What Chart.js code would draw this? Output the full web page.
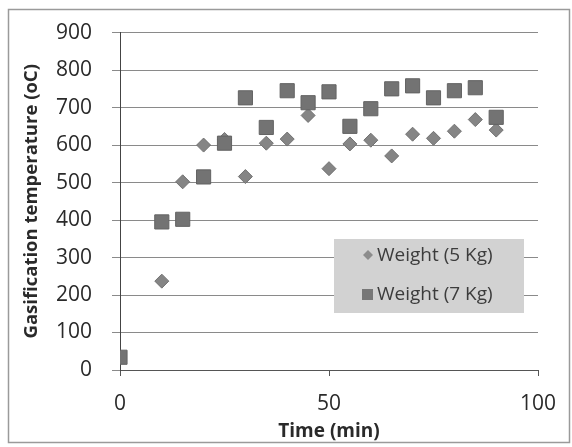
<!DOCTYPE html>
<html>
<head>
<meta charset="utf-8">
<script src="https://cdn.jsdelivr.net/npm/chart.js@4/dist/chart.umd.min.js"></script>
<style>
  html, body { margin: 0; padding: 0; background: #fff; }
</style>
</head>
<body>
<canvas id="gasChart" width="572" height="447"></canvas>
<script>
// time axis (min)
const time5 = [10, 15, 20, 25, 30, 35, 40, 45, 50, 55, 60, 65, 70, 75, 80, 85, 90];
const temp5 = [237, 502, 600, 615, 516, 605, 616, 679, 537, 603, 613, 571, 629, 618, 637, 668, 640];

const time7 = [0, 10, 15, 20, 25, 30, 35, 40, 45, 50, 55, 60, 65, 70, 75, 80, 85, 90];
const temp7 = [34, 395, 402, 515, 605, 726, 647, 745, 713, 742, 650, 697, 750, 758, 726, 745, 753, 674];

const xTicks = [0, 50, 100];
const yTicks = [0, 100, 200, 300, 400, 500, 600, 700, 800, 900];

const labels = ['Weight (5 Kg)', 'Weight (7 Kg)'];

function toPoints(xs, ys) {
    return xs.map((x, i) => ({x: x, y: ys[i]}));
}

//white page + scanned frame
const framePlugin = {
    id: 'frame',
    beforeDraw(chart) {
        const c = chart.ctx;
        c.save();
        c.fillStyle = '#ffffff';
        c.fillRect(0, 0, chart.width, chart.height);
        c.strokeStyle = '#9a9a9a';
        c.lineWidth = 1.5;
        c.strokeRect(8.5, 9.5, 561, 433);
        c.restore();
    }
};

//legend box sits inside the plot, like the excel one
const boxLegend = {
    id: 'boxLegend',
    afterDatasetsDraw(chart) {
        const c = chart.ctx;
        const bx = 334, by = 239, bw = 190, bh = 74;
        c.save();
        c.fillStyle = '#d2d2d2';
        c.fillRect(bx, by, bw, bh);
        c.font = '19px "Open Sans"';
        c.textBaseline = 'middle';
        //diamond
        c.fillStyle = '#8c8c8c';
        c.beginPath();
        c.moveTo(368, 250); c.lineTo(373, 255); c.lineTo(368, 260); c.lineTo(363, 255);
        c.closePath();
        c.fill();
        //square
        c.fillStyle = '#777777';
        c.fillRect(362, 289, 11, 11);
        c.fillStyle = '#3c3c3c';
        c.fillText(labels[0], 377, 256);
        c.fillText(labels[1], 377, 295);
        c.restore();
    }
};

const ctxG = document.getElementById('gasChart').getContext('2d');
const gasChart = new Chart(ctxG, {
    type: 'scatter',
    data: {
        datasets: [{
            label: labels[0],
            data: toPoints(time5, temp5),
            pointStyle: 'rectRot',
            pointRadius: 7,
            backgroundColor: '#858585',
            borderColor: '#727272',
            borderWidth: 1,
            order: 2
        },
            {
                label: labels[1],
                data: toPoints(time7, temp7),
                pointStyle: 'rect',
                pointRadius: 10,
                backgroundColor: '#737373',
                borderColor: '#636363',
                borderWidth: 1,
                order: 1
            }
        ]
    },
    options: {
        responsive: false,
        animation: false,
        devicePixelRatio: 1,
        layout: {padding: {top: 28, right: 34, left: 0, bottom: 0}},
        plugins: {
            legend: {display: false},
            tooltip: {enabled: false}
        },
        scales: {
            x: {
                type: 'linear',
                min: 0,
                max: 100,
                afterBuildTicks: (s) => { s.ticks = xTicks.map(v => ({value: v})); },
                afterFit: (s) => { s.height = 77; },
                ticks: {
                    color: '#2a2a2a',
                    font: {family: '"Open Sans"', size: 21},
                    padding: 15
                },
                grid: {
                    drawOnChartArea: false,
                    tickLength: 6,
                    color: '#555555'
                },
                border: {color: '#555555'},
                title: {
                    display: true,
                    text: 'Time (min)',
                    color: '#2a2a2a',
                    font: {family: '"Open Sans"', size: 19, weight: 'bold'},
                    padding: {top: 0, bottom: 4}
                }
            },
            y: {
                min: 0,
                max: 900,
                afterBuildTicks: (s) => { s.ticks = yTicks.map(v => ({value: v})); },
                afterFit: (s) => { s.width = 120; },
                ticks: {
                    color: '#2a2a2a',
                    font: {family: '"Open Sans"', size: 21},
                    padding: 20
                },
                grid: {
                    color: '#8a8a8a',
                    tickLength: 8
                },
                border: {color: '#444444'},
                title: {
                    display: true,
                    text: 'Gasification temperature (oC)',
                    color: '#2a2a2a',
                    font: {family: '"Open Sans"', size: 18.5, weight: 'bold'},
                    padding: {top: 21, bottom: 0}
                }
            }
        }
    },
    plugins: [framePlugin, boxLegend]
});
</script>
</body>
</html>
